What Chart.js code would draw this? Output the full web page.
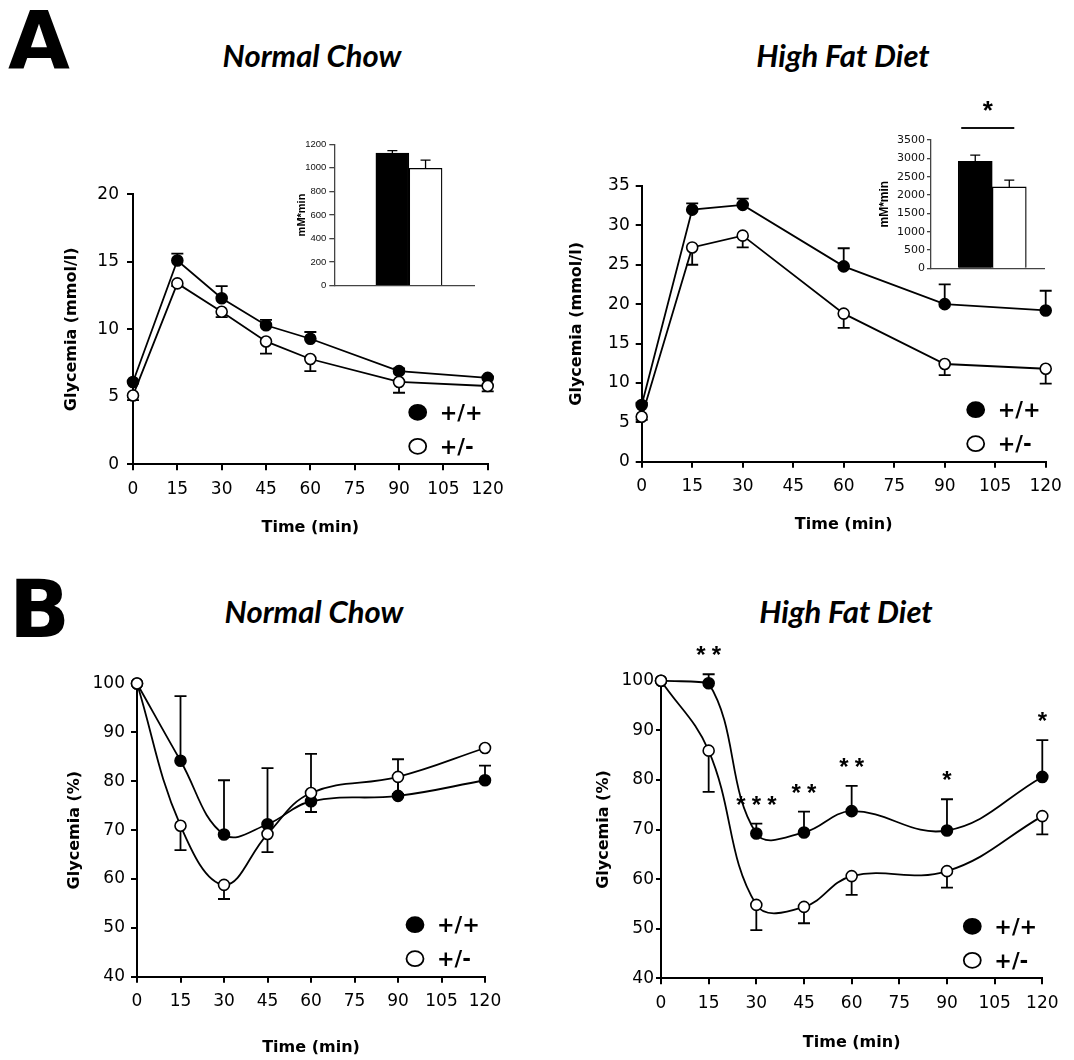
<!DOCTYPE html>
<html>
<head>
<meta charset="utf-8">
<script src="https://cdn.jsdelivr.net/npm/chart.js@4.4.1/dist/chart.umd.min.js"></script>
<style>
  html, body { margin: 0; padding: 0; background: #fff; }
  body { width: 1074px; height: 1060px; position: relative; overflow: hidden; }
  canvas, .txt { position: absolute; }
  .panel { font-family: 'DejaVu Sans'; font-weight: bold; font-size: 80px; line-height: 1; }
  .title { font-family: Lato; font-weight: 700; font-style: italic; font-size: 31px; line-height: 1; width: 400px; text-align: center; }
</style>
</head>
<body>
<div class="txt panel" style="left:8px;top:2px">A</div>
<div class="txt panel" style="left:9px;top:570px">B</div>
<div class="txt title" style="left:112px;top:40px">Normal Chow</div>
<div class="txt title" style="left:643px;top:40px">High Fat Diet</div>
<div class="txt title" style="left:114px;top:596px">Normal Chow</div>
<div class="txt title" style="left:646px;top:596px">High Fat Diet</div>
<canvas id="c-a-nc"></canvas>
<canvas id="c-a-hfd"></canvas>
<canvas id="c-b-nc"></canvas>
<canvas id="c-b-hfd"></canvas>
<canvas id="c-auc-nc"></canvas>
<canvas id="c-auc-hfd"></canvas>
<script>
// time points (min)
const times = [0, 15, 30, 45, 60, 90, 120];
const timesHfd = [0, 15, 30, 60, 90, 120];

// A - glucose tolerance, mmol/l (+/+ errors up, +/- errors down)
const gttNcWT = [6.1, 15.1, 12.3, 10.3, 9.3, 6.9, 6.4];
const gttNcWTErr = [0, 0.5, 0.9, 0.4, 0.5, 0.2, 0.1];
const gttNcHet = [5.1, 13.4, 11.3, 9.1, 7.8, 6.1, 5.8];
const gttNcHetErr = [0.35, 0.2, 0.4, 0.9, 0.9, 0.8, 0.4];

const gttHfdWT = [7.2, 32.0, 32.6, 24.8, 20.0, 19.2];
const gttHfdWTErr = [0.3, 0.8, 0.8, 2.3, 2.5, 2.5];
const gttHfdHet = [5.7, 27.2, 28.7, 18.8, 12.4, 11.8];
const gttHfdHetErr = [0.4, 2.2, 1.5, 1.8, 1.4, 1.9];

// A insets - area under curve, mM*min
const aucGroups = [1, 2];
const aucNc = [1126, 996];
const aucNcErr = [20, 70];
const aucHfd = [2920, 2220];
const aucHfdErr = [170, 185];

// B - insulin tolerance, % of basal glycemia
const ittNcWT = [100, 84.2, 69.1, 71.2, 75.9, 77.0, 80.2];
const ittNcWTErr = [0, 13.2, 11.1, 11.5, 9.7, 7.5, 3.0];
const ittNcHet = [100, 70.9, 58.8, 69.2, 77.6, 80.9, 86.8];
const ittNcHetErr = [0, 5.0, 2.9, 3.7, 3.9, 3.5, 0];

const ittHfdWT = [100, 99.5, 69.2, 69.4, 73.7, 69.8, 80.6];
const ittHfdWTErr = [0, 1.8, 2.0, 4.2, 5.1, 6.3, 7.4];
const ittHfdHet = [100, 85.9, 54.8, 54.4, 60.6, 61.6, 72.7];
const ittHfdHetErr = [0, 8.3, 5.1, 3.3, 3.8, 3.3, 3.7];
const ittHfdSig = ['', '**', '***', '**', '**', '*', '*'];

Chart.defaults.font.family = 'DejaVu Sans';
Chart.defaults.color = '#000';

const errorBars = {
  id: 'errorBars',
  beforeDatasetsDraw(chart) {
    const { ctx, scales: { x, y } } = chart;
    ctx.save();
    ctx.strokeStyle = '#000';
    chart.data.datasets.forEach(ds => {
      if (!ds.err) return;
      const cap = ds.capWidth || 12;
      ctx.lineWidth = ds.errWidth || 1.8;
      ds.data.forEach((p, j) => {
        const e = ds.err[j];
        if (!e) return;
        const px = x.getPixelForValue(p.x);
        const y0 = y.getPixelForValue(p.y);
        const y1 = y.getPixelForValue(p.y + ds.errDir * e);
        ctx.beginPath();
        ctx.moveTo(px, y0);
        ctx.lineTo(px, y1);
        ctx.moveTo(px - cap / 2, y1);
        ctx.lineTo(px + cap / 2, y1);
        ctx.stroke();
      });
    });
    ctx.restore();
  }
};

const markerLegend = {
  id: 'markerLegend',
  afterDatasetsDraw(chart) {
    const { ctx, chartArea: a } = chart;
    const cx = a.right - 70;
    ctx.save();
    ctx.font = 'bold 21px "DejaVu Sans"';
    ctx.textBaseline = 'middle';
    chart.data.datasets.forEach((ds, i) => {
      const cy = a.bottom - 52 + i * 34;
      ctx.beginPath();
      ctx.ellipse(cx, cy, 8.5, 7.5, 0, 0, Math.PI * 2);
      ctx.fillStyle = ds.pointBackgroundColor;
      ctx.fill();
      ctx.lineWidth = 1.8;
      ctx.strokeStyle = '#000';
      ctx.stroke();
      ctx.fillStyle = '#000';
      ctx.fillText(ds.label, cx + 22, cy + 2);
    });
    ctx.restore();
  }
};

const sigStars = {
  id: 'sigStars',
  afterDatasetsDraw(chart) {
    const { ctx, scales: { x, y } } = chart;
    ctx.save();
    ctx.fillStyle = '#000';
    ctx.font = 'bold 24px "Liberation Sans"';
    ctx.textAlign = 'center';
    chart.data.datasets.forEach(ds => {
      if (!ds.sig) return;
      ds.data.forEach((p, j) => {
        const n = ds.sig[j].length;
        if (!n) return;
        const px = x.getPixelForValue(p.x);
        const cy = y.getPixelForValue(p.y + (ds.err[j] || 0)) - 24;
        for (let k = 0; k < n; k++) {
          ctx.fillText('*', px + (k - (n - 1) / 2) * 15.5, cy + 13);
        }
      });
    });
    ctx.restore();
  }
};

// significance bar over the HFD inset
const aucSig = {
  id: 'aucSig',
  afterDatasetsDraw(chart, args, opts) {
    if (!opts.text) return;
    const { ctx, chartArea: a, scales: { x } } = chart;
    const p1 = x.getPixelForValue(aucGroups[0]);
    const p2 = x.getPixelForValue(aucGroups[1]);
    const half = (p2 - p1) / 2;
    const x0 = p1 - half + 3, x1 = p2 + 5;
    ctx.save();
    ctx.strokeStyle = '#111';
    ctx.lineWidth = 2;
    ctx.beginPath();
    ctx.moveTo(x0, a.top - 12);
    ctx.lineTo(x1, a.top - 12);
    ctx.stroke();
    ctx.fillStyle = '#000';
    ctx.font = 'bold 26px "Liberation Sans"';
    ctx.textAlign = 'center';
    ctx.fillText(opts.text, (x0 + x1) / 2, a.top - 35 + 14);
    ctx.restore();
  }
};

// place a canvas on the page and work out padding / axis sizes so the plot area lands at L,T,R,B
function frame(id, g) {
  const cv = document.getElementById(id);
  cv.width = g.w;
  cv.height = g.h;
  cv.style.left = g.cx + 'px';
  cv.style.top = g.cy + 'px';
  cv.style.width = g.w + 'px';
  cv.style.height = g.h + 'px';
  const lh = g.titleSize * 1.2;
  const padLeft = g.yTitleX - g.cx - lh / 2;
  const B = g.B - g.cy;
  const bottom = g.xTitleY ? g.xTitleY - g.cy + lh / 2 : B + 2;
  return {
    cv,
    padding: { left: padLeft, top: g.T - g.cy, right: g.w - (g.R - g.cx), bottom: g.h - bottom },
    yWidth: g.L - g.cx - padLeft,
    xHeight: bottom - B,
  };
}

function series(label, xs, ys, err, dir, fill, tension, extra) {
  return Object.assign({
    label,
    data: xs.map((t, i) => ({ x: t, y: ys[i] })),
    err,
    errDir: dir,
    borderColor: '#000',
    borderWidth: 1.8,
    pointBackgroundColor: fill,
    pointBorderColor: '#000',
    pointBorderWidth: 1.6,
    pointRadius: 5.5,
    tension,
    clip: false,
    order: dir > 0 ? 2 : 1,
  }, extra || {});
}

function lineChart(id, g, datasets, yMin, yMax, yStep, yTitle, extraPlugins) {
  const f = frame(id, g);
  const tickFont = { size: g.tickSize };
  const titleFont = { size: g.titleSize, weight: 'bold' };
  return new Chart(f.cv, {
    type: 'line',
    data: { datasets },
    options: {
      responsive: false,
      animation: false,
      devicePixelRatio: 1,
      layout: { padding: f.padding },
      plugins: { legend: { display: false }, tooltip: { enabled: false } },
      scales: {
        x: {
          type: 'linear', min: 0, max: 120,
          ticks: { stepSize: 15, font: tickFont, color: '#000', padding: 9 },
          grid: { drawOnChartArea: false, color: '#000', lineWidth: 2, tickLength: 6 },
          border: { color: '#000', width: 2 },
          title: { display: true, text: 'Time (min)', font: titleFont, color: '#000', padding: 0 },
          afterFit: s => { s.height = f.xHeight; },
        },
        y: {
          min: yMin, max: yMax,
          ticks: { stepSize: yStep, font: tickFont, color: '#000', padding: g.yPad },
          grid: { drawOnChartArea: false, color: '#000', lineWidth: 2, tickLength: g.tickLen || 6 },
          border: { color: '#000', width: 2 },
          title: { display: true, text: yTitle, font: titleFont, color: '#000', padding: 0 },
          afterFit: s => { s.width = f.yWidth; },
        },
      },
    },
    plugins: [errorBars, markerLegend].concat(extraPlugins || []),
  });
}

function aucChart(id, g, values, errs, yMax, yStep, xMin, xMax, sigText) {
  const f = frame(id, g);
  return new Chart(f.cv, {
    type: 'bar',
    data: {
      datasets: [{
        data: aucGroups.map((k, i) => ({ x: k, y: values[i] })),
        err: errs,
        errDir: 1,
        capWidth: 10,
        errWidth: 1.3,
        backgroundColor: ['#000', '#fff'],
        borderColor: '#000',
        borderWidth: 1.3,
        borderSkipped: 'bottom',
        barThickness: g.barWidth,
      }],
    },
    options: {
      responsive: false,
      animation: false,
      devicePixelRatio: 1,
      layout: { padding: f.padding },
      plugins: { legend: { display: false }, tooltip: { enabled: false }, aucSig: { text: sigText } },
      scales: {
        x: {
          type: 'linear', min: xMin, max: xMax, offset: false,
          ticks: { display: false },
          grid: { display: false, offset: false },
          border: { color: '#444', width: 1.3 },
          afterFit: s => { s.height = f.xHeight; },
        },
        y: {
          min: 0, max: yMax,
          ticks: { stepSize: yStep, font: { family: g.tickFamily, size: g.tickSize }, color: '#111', padding: g.yPad, callback: v => String(v) },
          grid: { drawOnChartArea: false, color: '#444', lineWidth: 1.3, tickLength: g.tickLen },
          border: { color: '#444', width: 1.3 },
          title: { display: true, text: 'mM*min', font: { family: 'Liberation Sans', size: g.titleSize, weight: 'bold' }, color: '#000', padding: 0 },
          afterFit: s => { s.width = f.yWidth; },
        },
      },
    },
    plugins: [errorBars, aucSig],
  });
}

// A, normal chow
lineChart('c-a-nc',
  { cx: 0, cy: 130, w: 530, h: 420, L: 133, T: 194.3, R: 487.7, B: 464.3, yTitleX: 72.3, xTitleY: 528, titleSize: 16, tickSize: 17, yPad: 8 },
  [series('+/+', times, gttNcWT, gttNcWTErr, 1, '#000', 0),
   series('+/-', times, gttNcHet, gttNcHetErr, -1, '#fff', 0)],
  0, 20, 5, 'Glycemia (mmol/l)');

// A, high fat diet
lineChart('c-a-hfd',
  { cx: 530, cy: 130, w: 544, h: 420, L: 641.7, T: 186, R: 1045.7, B: 461.7, yTitleX: 576.7, xTitleY: 525, titleSize: 16, tickSize: 17, yPad: 6 },
  [series('+/+', timesHfd, gttHfdWT, gttHfdWTErr, 1, '#000', 0),
   series('+/-', timesHfd, gttHfdHet, gttHfdHetErr, -1, '#fff', 0)],
  0, 35, 5, 'Glycemia (mmol/l)');

// B, normal chow
lineChart('c-b-nc',
  { cx: 0, cy: 600, w: 530, h: 460, L: 137, T: 683.5, R: 485, B: 976.7, yTitleX: 75, xTitleY: 1048, titleSize: 16, tickSize: 17, yPad: 6 },
  [series('+/+', times, ittNcWT, ittNcWTErr, 1, '#000', 0.4),
   series('+/-', times, ittNcHet, ittNcHetErr, -1, '#fff', 0.4)],
  40, 100, 10, 'Glycemia (%)');

// B, high fat diet
lineChart('c-b-hfd',
  { cx: 530, cy: 600, w: 544, h: 460, L: 661, T: 680.7, R: 1042.3, B: 978.3, yTitleX: 604, xTitleY: 1043, titleSize: 16, tickSize: 17, yPad: 2, tickLen: 5 },
  [series('+/+', times, ittHfdWT, ittHfdWTErr, 1, '#000', 0.4, { sig: ittHfdSig }),
   series('+/-', times, ittHfdHet, ittHfdHetErr, -1, '#fff', 0.4)],
  40, 100, 10, 'Glycemia (%)', [sigStars]);

// AUC insets
aucChart('c-auc-nc',
  { cx: 285, cy: 120, w: 200, h: 180, L: 334.3, T: 144.3, R: 474, B: 285.7, yTitleX: 301.7, titleSize: 11, tickSize: 9.5, tickFamily: 'Liberation Sans', tickLen: 5, yPad: 3, barWidth: 33 },
  aucNc, aucNcErr, 1200, 200, -0.75, 3.46, '');

aucChart('c-auc-hfd',
  { cx: 860, cy: 90, w: 200, h: 190, L: 931, T: 140, R: 1044, B: 268.3, yTitleX: 885, titleSize: 12, tickSize: 11, tickFamily: 'DejaVu Sans', tickLen: 4, yPad: 2, barWidth: 34 },
  aucHfd, aucHfdErr, 3500, 500, -0.3, 3.02, '*');
</script>
</body>
</html>
